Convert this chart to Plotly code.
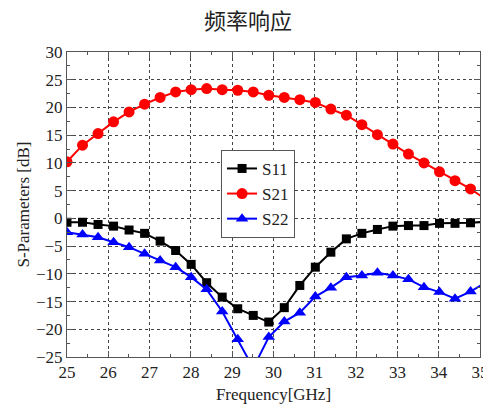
import plotly.graph_objects as go

step = 0.3758
freq = [round(25 + step * k, 4) for k in range(28)]

s21 = [10.2, 13.2, 15.3, 17.4, 19.2, 20.6, 21.8, 22.8, 23.2, 23.4, 23.2, 23.1,
       22.8, 22.2, 21.8, 21.4, 20.9, 19.7, 18.6, 16.9, 15.1, 13.4, 11.6, 10.0,
       8.4, 6.8, 5.3, 3.4]
s11 = [-0.7, -0.7, -1.1, -1.4, -2.1, -2.7, -4.1, -5.8, -8.3, -11.6, -14.2, -16.3,
       -17.5, -18.7, -16.1, -12.1, -8.8, -6.1, -3.7, -2.7, -2.0, -1.4, -1.3, -1.3,
       -0.9, -0.9, -0.8, -0.6]
s22 = [-2.5, -2.9, -3.4, -4.3, -5.2, -6.4, -7.6, -8.8, -10.6, -12.8, -16.8, -21.8,
       -27.0, -21.4, -18.6, -17.0, -14.1, -12.5, -10.6, -10.3, -9.8, -10.3, -11.0,
       -12.4, -13.3, -14.5, -13.2, -11.5]

xticks = list(range(25, 36))
yticks = list(range(-25, 31, 5))

serif = "Liberation Serif, Times New Roman, DejaVu Serif, serif"

fig = go.Figure()
fig.add_trace(go.Scatter(x=freq, y=s11, name="S11", mode="lines+markers",
                         line=dict(color="black", width=2),
                         marker=dict(symbol="square", size=9, color="black")))
fig.add_trace(go.Scatter(x=freq, y=s21, name="S21", mode="lines+markers",
                         line=dict(color="#ff0000", width=2),
                         marker=dict(symbol="circle", size=11, color="#ff0000")))
fig.add_trace(go.Scatter(x=freq, y=s22, name="S22", mode="lines+markers",
                         line=dict(color="#0000ff", width=2),
                         marker=dict(symbol="triangle-up", size=11, color="#0000ff")))

axis_common = dict(showline=True, mirror="ticks", linecolor="#555555", linewidth=1,
                   ticks="inside", ticklen=6, tickcolor="#555555",
                   showgrid=True, gridcolor="#444444", griddash="dot", gridwidth=1,
                   zeroline=False, automargin=False,
                   tickfont=dict(family=serif, size=17, color="#222222"))

fig.update_xaxes(range=[25, 35], tickvals=xticks,
                 minor=dict(dtick=0.5, ticks="inside", ticklen=3, tickcolor="#555555", showgrid=False),
                 title=dict(text="Frequency[GHz]", font=dict(family=serif, size=17, color="#222222"), standoff=6),
                 **axis_common)
fig.update_yaxes(range=[-25, 30], tickvals=yticks,
                 minor=dict(dtick=2.5, ticks="inside", ticklen=3, tickcolor="#555555", showgrid=False),
                 title=dict(text="S-Parameters [dB]", font=dict(family=serif, size=17, color="#222222"), standoff=2),
                 **axis_common)

# the page body adds an 8px offset, so the figure is sized to fit the 491x410 window
fig.update_layout(
    width=483, height=402,
    margin=dict(l=59, r=11, t=44, b=53),
    paper_bgcolor="white", plot_bgcolor="white",
    font=dict(family=serif, color="#222222"),
    title=dict(text="频率响应", x=0.497, xanchor="center", y=0.985, yanchor="top", yref="container",
               font=dict(family="Noto Sans CJK SC", size=22, color="#222222")),
    legend=dict(x=0.373, y=0.679, xanchor="left", yanchor="top",
                bgcolor="white", bordercolor="#555555", borderwidth=1,
                font=dict(family=serif, size=17, color="#222222"),
                tracegroupgap=0, itemwidth=30),
    showlegend=True,
)

fig.write_html("out.html")
